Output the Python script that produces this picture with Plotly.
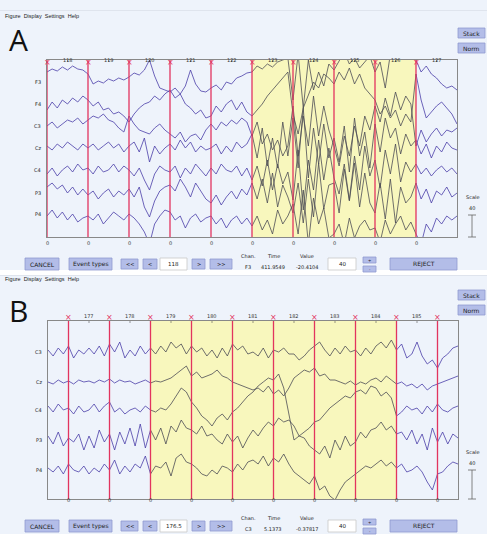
import numpy as np
import plotly.graph_objects as go

W, H = 487, 546
# ---------------- data ----------------
epochs_A = ["118", "119", "120", "121", "122", "123", "124", "125", "126", "127"]
channels_A = ["F3", "F4", "C3", "Cz", "C4", "P3", "P4"]
rejected_A = (5, 9)
sig_A = {
 "F3": [10,13,11,15,12,16,13,12, 8,-2,1,-1,3,1,4,2, 5,9,7,12,22,6,-6,-8, -10,-6,-12,-4,12,-2,-9,-10, -6,-3,-8,0,-2,4,6,9, 10,16,13,18,15,20,22,24, -18,28,-26,22,-8,10,-4,18, 12,22,30,18,24,14,20,26, 10,20,-6,28,34,38,40,42, 22,10,16,8,4,-2,-6,-4,-8],
 "F4": [-6,2,-4,4,0,6,2,8, 4,-2,2,-6,-4,-10,-8,-12, -18,-10,-4,0,2,8,4,10, 14,6,10,0,-4,-10,-6,-14, -12,-2,-8,0,4,-6,2,-8, -12,-6,0,8,14,20,26,32, -10,-30,-4,10,22,16,30,26, 20,32,24,36,20,30,16,10, 4,-10,-2,-14,-6,-22,-10,-18, 30,4,-14,-8,-2,2,-4,-10,-20],
 "C3": [0,4,-2,2,6,4,8,2, 6,10,8,12,6,4,-2,-6, 10,2,-4,-6,-8,-2,2,-4, -8,-12,-6,-16,-10,-8,-14,-4, 2,-4,4,0,6,2,8,4, -10,4,-18,-8,-24,-14,-30,-20, 20,-30,10,-20,30,-10,20,-4, -20,-40,-10,-30,0,-20,10,-4, 20,4,28,10,34,16,30,22, -20,-4,-16,-8,-2,-10,-4,-6,-2],
 "Cz": [2,-2,4,0,6,2,-2,4, 0,4,-2,2,6,0,4,-4, 2,6,-4,10,-14,2,-6,0, 4,-2,8,0,6,-4,2,-2, 0,4,-6,2,-4,6,0,4, 14,-10,20,-18,10,-20,26,-8, 30,-20,40,-30,20,-16,24,-10, 10,-14,22,-24,30,-8,16,-20, 24,-4,30,10,20,-6,14,2, 8,-6,4,-10,2,-4,6,0,-2],
 "C4": [-4,2,-6,0,4,-2,6,0, 2,-4,4,-2,0,6,-2,4, 0,-6,2,-10,-20,-4,4,0, -2,4,-8,2,-4,6,0,-6, 2,-4,6,0,-2,4,-6,2, -10,4,-16,10,-20,6,-14,-2, -30,20,-40,10,-20,30,-10,22, -8,-24,6,-30,14,-20,24,-6, 10,-18,20,-4,26,-12,8,-2, 6,-4,2,-6,0,4,-2,2,-4],
 "P3": [6,10,4,8,0,6,-2,4, -2,2,-6,0,4,-4,2,-2, 4,-4,6,-14,-24,-8,2,6, 8,2,14,6,-4,10,2,-6, -10,-2,-12,-4,2,-6,4,-2, 10,-6,14,-10,20,-14,8,-4, -20,10,-30,14,-24,30,-16,8, 10,-20,24,-8,30,-14,20,-10, -20,10,-26,14,-30,6,-10,-4, 10,-6,4,-10,2,-2,6,-4,0],
 "P4": [-2,4,-4,2,-6,0,-8,-4, -2,-6,0,-10,-4,2,-2,-6, 0,-4,-10,-18,-30,-10,-2,4, 2,-6,-2,-14,-4,0,-8,-4, -2,-10,-4,-14,-6,-2,-10,-4, -12,-2,-16,-6,-20,4,-10,-2, 10,-20,24,-30,16,-10,6,-24, -20,-10,-30,-4,-24,-12,-6,-16, -14,-28,-6,-20,-10,-2,-16,-8, -20,-30,-10,-18,-4,-10,-2,-6,-2],
}
epochs_B = ["177", "178", "179", "180", "181", "182", "183", "184", "185"]
channels_B = ["C3", "Cz", "C4", "P3", "P4"]
rejected_B = (2, 8)
sig_B = {
 "C3": [2,-4,4,-2,6,-6,2,-2, 4,-2,6,-4,8,0,10,-6, 2,-4,6,-2,4,-2,6,0, 10,4,8,-2,6,0,4,-4, 2,-6,4,-4,8,2,6,-2, 0,-4,4,-6,2,0,4,-2, -2,-8,-4,2,6,10,2,-4, 4,-2,6,0,2,-4,4,-2, 6,10,4,12,2,8,-6,-2, 10,-4,-12,-8,-16,-6,-2,4,6],
 "Cz": [0,-2,2,-1,1,-2,2,0, 1,-1,2,0,3,-1,2,0, 1,-2,0,2,-1,1,0,2, 4,8,12,16,6,10,4,6, 8,12,6,4,0,-2,-4,-6, -8,-6,-10,-4,-12,-8,-14,-6, 4,8,12,10,14,6,8,2, 2,0,-2,1,-3,0,-2,2, 4,0,6,2,-2,0,-4,-2, -6,-2,-8,-4,-2,0,2,4,6],
 "C4": [4,-2,6,0,2,-4,4,-2, 0,6,-2,4,8,-2,2,-4, 0,2,-2,4,0,-2,2,0, 6,14,22,18,8,2,-6,-10, -16,-8,-4,-10,-2,2,8,14, 18,24,28,32,30,36,22,-4, -30,-26,-22,-18,-12,-10,-4,2, 6,10,14,12,18,20,16,24, 22,14,18,12,-6,-2,4,0, 2,-4,4,-2,6,0,-2,2,4],
 "P3": [4,-4,8,-6,2,-2,6,-10, 4,-8,10,-2,6,-10,8,-4, 12,-6,16,-8,10,0,12,-4, 14,8,20,12,10,6,14,4, 6,0,-4,6,-2,4,-8,2, 10,4,12,18,14,22,18,20, 14,4,2,-6,-10,-14,-6,-18, 0,-10,4,-6,-2,8,2,10, 12,18,10,14,6,8,0,10, -4,6,-10,12,-2,8,-4,6,2],
 "P4": [2,-2,4,-4,6,0,-2,4, -4,2,-2,6,0,10,-4,4, -2,6,2,14,-4,4,2,8, -6,12,16,8,6,2,-4,-6, 0,-4,4,2,-2,6,0,8, 10,6,14,4,12,8,16,6, -2,-6,-10,-14,-6,-20,-16,-26, -30,-20,-12,-8,-4,0,4,2, 6,10,4,8,2,6,-2,0, 4,-2,-12,-20,-4,-2,4,8,6],
}
info_A = {"page": "118", "chan": "F3", "time": "411.9549", "value": "-20.4104", "scale": "40"}
info_B = {"page": "176.5", "chan": "C3", "time": "5.1373", "value": "-0.37817", "scale": "40"}

PURPLE = "#4a3ea8"
GRAY = "#4d4d55"
RED = "#e2345f"

def px(x): return x / W
def py(y): return 1 - y / H

fig = go.Figure()
shapes, ann = [], []

def rect(x0, y0, x1, y1, fill, line="rgba(0,0,0,0)", lw=0.8):
    shapes.append(dict(type="rect", xref="paper", yref="paper", x0=px(x0), x1=px(x1),
                       y0=py(y1), y1=py(y0), fillcolor=fill, line=dict(color=line, width=lw), layer="below"))

def text(x, y, s, size=6, anchor="center", color="#222", family=None):
    f = dict(size=size, color=color)
    if family:
        f["family"] = family
    ann.append(dict(xref="paper", yref="paper", x=px(x), y=py(y), text=s, showarrow=False,
                    xanchor=anchor, yanchor="middle", font=f))

def button(x0, y0, x1, y1, label, size=6):
    rect(x0, y0, x1, y1, "#b3bde8", "#8f9ad0")
    text((x0 + x1) / 2, (y0 + y1) / 2, label, size)

def panel(top, letter, xa, ya, channels, sig, epochs, rej, xr, plot, bases, info):
    L, T, R, B = plot
    rect(0, top, W, top + 270 if top == 0 else H - 12, "#eef3fb")
    rect(0, top + 10 if top == 0 else top, W, top + 10.5 if top == 0 else top + 0.5, "#cfd6e0")
    my = top + 16 if top == 0 else top + 4
    text(3, my, "Figure&nbsp;&nbsp;Display&nbsp;&nbsp;Settings&nbsp;&nbsp;Help", 5.5, "left", "#222", "Liberation Sans")
    text(18, top + 40 if top == 0 else 310, letter, 30, "center", "#111", "Open Sans")
    sy = 33 if top == 0 else 295
    button(458, sy - 5, 485, sy + 5, "Stack")
    button(458, sy + 10, 485, sy + 20, "Norm")
    lo, hi = xr
    shapes.append(dict(type="rect", xref=xa, yref=ya, x0=rej[0], x1=rej[1], y0=0, y1=1000,
                       fillcolor="#f8f7bd", line=dict(width=0), layer="below"))
    bnd = list(range(0, int(hi) if hi == int(hi) else int(hi) + 1))
    for b in bnd:
        shapes.append(dict(type="line", xref=xa, yref=ya, x0=b, x1=b, y0=0, y1=1000,
                           line=dict(color=RED, width=1.3), layer="above"))
        ann.append(dict(xref=xa, yref="paper", x=b, y=py(T - 4), text="×", showarrow=False,
                        font=dict(size=8, color=RED)))
        ann.append(dict(xref=xa, yref="paper", x=b, y=py(B + 6), text="0", showarrow=False,
                        font=dict(size=5, color="#333")))
    for i, e in enumerate(epochs):
        ann.append(dict(xref=xa, yref="paper", x=i + 0.5, y=py(T - 5), text=e, showarrow=False,
                        font=dict(size=5, color="#333")))
        shapes.append(dict(type="line", xref=xa, yref="paper", x0=i + 0.5, x1=i + 0.5,
                           y0=py(T), y1=py(T + 2), line=dict(color="#555", width=0.6)))
    for ch, base in zip(channels, bases):
        v = np.array(sig[ch], dtype=float)
        x = np.linspace(lo, hi, len(v))
        y = base + v
        inside = (x >= rej[0]) & (x <= rej[1])
        outside = (x <= rej[0]) | (x >= rej[1])
        fig.add_trace(go.Scatter(x=x, y=np.where(outside, y, np.nan), mode="lines", xaxis=xa, yaxis=ya,
                                 line=dict(color=PURPLE, width=0.8), connectgaps=False, showlegend=False))
        fig.add_trace(go.Scatter(x=x, y=np.where(inside, y, np.nan), mode="lines", xaxis=xa, yaxis=ya,
                                 line=dict(color=GRAY, width=0.8), connectgaps=False, showlegend=False))
        text(L - 4, B - base, ch, 5, "right")
    bar = 22 if top == 0 else 29
    text(472, B - bar - 18, "Scale", 5)
    text(472, B - bar - 7, info["scale"], 5)
    shapes.append(dict(type="line", xref="paper", yref="paper", x0=px(472), x1=px(472), y0=py(B), y1=py(B - bar), line=dict(color="#666", width=0.8)))
    for yy in (B, B - bar):
        shapes.append(dict(type="line", xref="paper", yref="paper", x0=px(468), x1=px(476), y0=py(yy), y1=py(yy), line=dict(color="#666", width=0.8)))
    by = 264 if top == 0 else 526
    button(25, by - 6, 59, by + 6, "CANCEL")
    button(69, by - 6, 112, by + 6, "Event types")
    button(121, by - 5, 138, by + 5, "<<", 5)
    button(143, by - 5, 157, by + 5, "<", 5)
    rect(160, by - 6, 187, by + 6, "white", "#c8c8c8")
    text(173.5, by, info["page"], 5.5)
    button(192, by - 5, 205, by + 5, ">", 5)
    button(210, by - 5, 232, by + 5, ">>", 5)
    text(248, by - 8, "Chan.", 5); text(248, by + 3, info["chan"], 5)
    text(273, by - 8, "Time", 5); text(273, by + 3, info["time"], 5)
    text(307, by - 8, "Value", 5); text(307, by + 3, info["value"], 5)
    rect(328, by - 6, 356, by + 6, "white", "#c8c8c8")
    text(342, by, info["scale"], 5.5)
    button(363, by - 7, 376, by - 1, "+", 4)
    button(363, by + 2, 376, by + 8, "-", 4)
    button(390, by - 6, 457, by + 6, "REJECT")

LA = (47, 60, 457, 237)
basesA = [155, 133, 111, 89, 67, 44, 23]
panel(0, "A", "x", "y", channels_A, sig_A, epochs_A, rejected_A, (0, 10), LA, basesA, info_A)
LB = (48, 321, 458, 499)
basesB = [147, 117, 89, 59, 29]
panel(275, "B", "x2", "y2", channels_B, sig_B, epochs_B, rejected_B, (-0.5, 9.5), LB, basesB, info_B)

ax = dict(showgrid=False, zeroline=False, showticklabels=False, ticks="", showline=True,
          linecolor="#888", linewidth=0.8, mirror=True, fixedrange=True)
fig.update_layout(
    width=W, height=H, margin=dict(l=0, r=0, t=0, b=0),
    paper_bgcolor="white", plot_bgcolor="white",
    font=dict(family="DejaVu Sans"),
    xaxis=dict(domain=[px(47), px(457)], range=[0, 10], anchor="y", **ax),
    yaxis=dict(domain=[py(237), py(60)], range=[0, 177], anchor="x", **ax),
    xaxis2=dict(domain=[px(48), px(458)], range=[-0.5, 9.5], anchor="y2", **ax),
    yaxis2=dict(domain=[py(499), py(321)], range=[0, 178], anchor="x2", **ax),
    shapes=shapes, annotations=ann, showlegend=False,
)
fig.write_html("out.html", config={"displayModeBar": False},
               post_script="document.body.style.margin='0';document.body.style.overflow='hidden';")
